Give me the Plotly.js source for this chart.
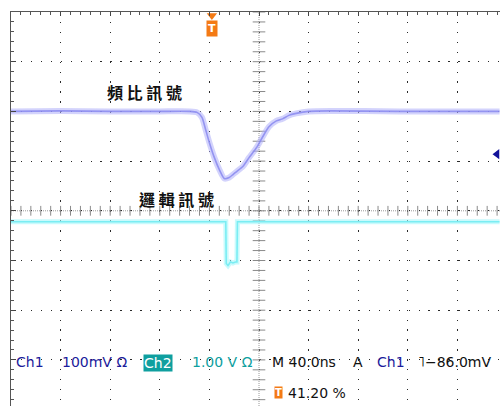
<!DOCTYPE html>
<html>
<head>
<meta charset="utf-8">
<script src="https://cdn.plot.ly/plotly-3.0.1.min.js"></script>
<style>
  html, body { margin: 0; padding: 0; background: #fff; }
  #scope { width: 500px; height: 406px; }
</style>
</head>
<body>
<div id="scope"></div>
<script>
// Channel 1 (ratio signal), 100 mV/div, time in ns from left edge of screen
const ch1TimeNs = [0, 40, 80, 120, 144, 150, 154, 157, 160, 164, 168, 172, 176, 179, 182, 187, 192, 198, 203, 208, 214, 219, 224, 230, 240, 257, 313, 353, 394];
const ch1mV     = [0, 1, 0, 0, 0, -2, -12, -37, -63, -93, -117, -135, -133, -127, -121, -111, -93, -73, -51, -31, -19, -15, -8, -4, 0, 1, 0, 0, 0];

// Channel 2 (logic signal), 1.00 V/div
const ch2TimeNs = [0, 40, 80, 120, 160, 173.2, 173.6, 175, 177, 179, 181, 182.2, 182.6, 200, 240, 280, 320, 360, 394];
const ch2Volts  = [0.78, 0.78, 0.78, 0.78, 0.78, 0.78, -0.06, -0.10, -0.03, -0.05, -0.03, -0.03, 0.78, 0.78, 0.78, 0.78, 0.78, 0.78, 0.78];

// Scope settings shown in the status line
const ch1Scale = '100mV';
const ch2Scale = '1.00 V';
const timebase = '40.0ns';
const triggerLevelmV = -86.0;
const triggerPct = '41.20 %';
const triggerTimeNs = 162;

const labelRatio = '頻 比 訊 號';
const labelLogic = '邏 輯 訊 號';

// Screen geometry: plot area starts 11px from left, 12px from top
const W = 500, H = 406, L = 11, T = 12;
const pxPerDivX = 49.6, pxPerDivY = 49.7;
const nsPerDiv = 40, mVPerDiv = 100, VPerDiv = 1;
const xMax = (W - L) / pxPerDivX * nsPerDiv;
const divsY = (H - T) / pxPerDivY;
const ch1Top = 2 * mVPerDiv;             // ch1 ground sits 2 div above centre
const ch2Top = 5 * VPerDiv;              // ch2 ground sits 1 div below centre
const y1Range = [ch1Top - divsY * mVPerDiv, ch1Top];
const y2Range = [ch2Top - divsY * VPerDiv, ch2Top];
const centerX = 5 * nsPerDiv;
const centerY = ch1Top - 4 * mVPerDiv;

const px = x => (x - L) / (W - L);
const py = y => (H - y) / (H - T);

// Tick marks along the graticule centre lines
const minorX = [], minorY = [];
for (let x = 0; x <= xMax + 0.01; x += nsPerDiv / 5) minorX.push(x);
for (let y = ch1Top; y >= y1Range[0] - 0.01; y -= mVPerDiv / 5) minorY.push(y);

const traces = [
  { x: minorX, y: minorX.map(() => centerY), type: 'scatter', mode: 'markers',
    marker: { symbol: 'line-ns', size: 7, line: { color: '#8a8a8a', width: 1 } }, hoverinfo: 'skip' },
  { x: minorY.map(() => centerX), y: minorY, type: 'scatter', mode: 'markers',
    marker: { symbol: 'line-ew', size: 9, line: { color: '#8a8a8a', width: 1 } }, hoverinfo: 'skip' },
  // ch1 trace: soft halo plus core
  { x: ch1TimeNs, y: ch1mV, type: 'scatter', mode: 'lines',
    line: { color: 'rgba(175,175,250,0.55)', width: 6, shape: 'spline', smoothing: 0.6 }, hoverinfo: 'skip' },
  { x: ch1TimeNs, y: ch1mV, type: 'scatter', mode: 'lines',
    line: { color: 'rgba(136,136,238,0.85)', width: 1.6, shape: 'spline', smoothing: 0.6 } },
  // ch2 trace
  { x: ch2TimeNs, y: ch2Volts, yaxis: 'y2', type: 'scatter', mode: 'lines',
    line: { color: 'rgba(165,246,250,0.6)', width: 5 }, hoverinfo: 'skip' },
  { x: ch2TimeNs, y: ch2Volts, yaxis: 'y2', type: 'scatter', mode: 'lines',
    line: { color: 'rgba(118,236,242,0.95)', width: 1.6 } },
  // trigger level indicator (right edge) and trigger position marker (top)
  { x: [xMax - 2.4], y: [triggerLevelmV], type: 'scatter', mode: 'markers', cliponaxis: false,
    marker: { symbol: 'triangle-left', size: 9, color: '#12129a' } },
  { x: [triggerTimeNs], y: [ch1Top - 0.07 * mVPerDiv], type: 'scatter', mode: 'markers', cliponaxis: false,
    marker: { symbol: 'triangle-down', size: 9, color: '#f47a14' } }
];

const statusFont = { family: 'DejaVu Sans, sans-serif', size: 14 };
const navy = '#1c1c9c', teal = '#0f9f9f';
function status(text, x, y, color, extra) {
  return Object.assign({
    text: text, xref: 'paper', yref: 'paper', x: px(x), y: py(y),
    xanchor: 'left', yanchor: 'middle', showarrow: false,
    font: Object.assign({}, statusFont, { color: color })
  }, extra || {});
}
function centered(text, x, y, font, extra) {
  return Object.assign({
    text: text, xref: 'paper', yref: 'paper', x: px(x), y: py(y),
    xanchor: 'center', yanchor: 'middle', showarrow: false, font: font
  }, extra || {});
}

const cjkFont = { family: 'Noto Sans CJK TC', size: 16, color: '#111' };
const annotations = [
  centered('<b>' + labelRatio + '</b>', 144, 92, cjkFont),
  centered('<b>' + labelLogic + '</b>', 176, 199, cjkFont),
  // trigger "T" flag at the top
  centered('<b>T</b>', 212, 28, { family: 'DejaVu Sans', size: 11, color: '#fff' },
    { bgcolor: '#f47a14', borderpad: 1 }),
  status('Ch1', 14, 362, navy),
  status(ch1Scale + ' Ω', 60, 362, navy),
  centered('Ch2', 158, 363, Object.assign({}, statusFont, { color: '#fff' }),
    { bgcolor: teal, borderpad: 0 }),
  status(ch2Scale + ' Ω', 190, 362, teal),
  status('M ' + timebase, 270, 362, '#111'),
  status('A', 351, 362, '#111'),
  status('Ch1', 375, 362, navy),
  status('˥−' + Math.abs(triggerLevelmV).toFixed(1) + 'mV', 416, 362, '#111'),
  centered('<b>T</b>', 278, 392, { family: 'DejaVu Sans', size: 10, color: '#fff' },
    { bgcolor: '#f47a14', borderpad: 0 }),
  status(triggerPct, 286, 393, '#111')
];

const layout = {
  width: W, height: H,
  margin: { l: L, t: T, r: 0, b: 0, pad: 0 },
  paper_bgcolor: '#fff', plot_bgcolor: '#fff',
  showlegend: false,
  xaxis: {
    range: [0, xMax], side: 'top', showticklabels: false, zeroline: false,
    dtick: nsPerDiv, tick0: 0, ticks: 'inside', ticklen: 4, tickcolor: '#444',
    showline: true, linecolor: '#555', linewidth: 1.5,
    showgrid: true, gridcolor: '#2a2a2a', gridwidth: 1, griddash: '1.3px,8.62px',
    minor: { dtick: nsPerDiv / 5, ticks: 'inside', ticklen: 3, tickcolor: '#555', showgrid: false }
  },
  yaxis: {
    range: y1Range, showticklabels: false, zeroline: false,
    dtick: mVPerDiv, tick0: 0, ticks: 'inside', ticklen: 5, tickcolor: '#444',
    showline: true, linecolor: '#555', linewidth: 1.5,
    showgrid: true, gridcolor: '#2a2a2a', gridwidth: 1, griddash: '1.3px,8.64px',
    minor: { dtick: mVPerDiv / 5, ticks: 'inside', ticklen: 3, tickcolor: '#555', showgrid: false }
  },
  yaxis2: { range: y2Range, overlaying: 'y', visible: false, showgrid: false, zeroline: false },
  shapes: [
    { type: 'line', xref: 'x', yref: 'paper', x0: centerX, x1: centerX, y0: 0, y1: 1,
      layer: 'below', line: { color: '#9a9a9a', width: 1, dash: '1px,1px' } },
    { type: 'line', xref: 'paper', yref: 'y', x0: 0, x1: 1, y0: centerY, y1: centerY,
      layer: 'below', line: { color: '#9a9a9a', width: 1, dash: '1px,1px' } }
  ],
  annotations: annotations
};

Plotly.newPlot('scope', traces, layout, { displayModeBar: false, staticPlot: true });
</script>
</body>
</html>
